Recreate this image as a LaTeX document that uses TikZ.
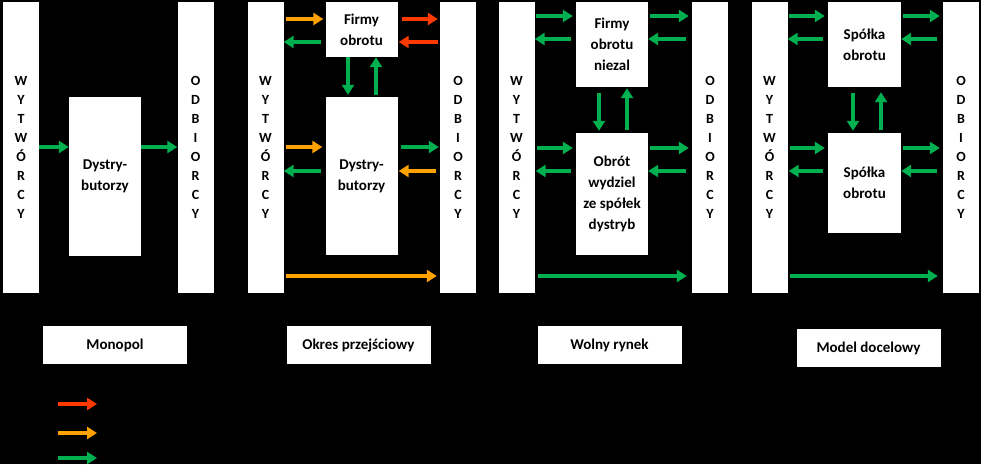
\documentclass[tikz,border=0pt]{standalone}
\usepackage{fontspec}
\setmainfont{Carlito}
\usetikzlibrary{arrows.meta}

\definecolor{fred}{HTML}{FF3A00}
\definecolor{forange}{HTML}{FFA200}
\definecolor{fgreen}{HTML}{00B050}

\tikzset{
  bar/.style={fill=white, minimum width=36pt, minimum height=291pt, inner sep=0pt,
    align=center, font=\bfseries\fontsize{14}{19}\selectfont},
  box/.style={fill=white, minimum width=72pt, inner sep=0pt,
    align=center, font=\bfseries\fontsize{15}{21}\selectfont},
  lab/.style={fill=white, minimum width=144pt, minimum height=38pt, inner sep=0pt,
    font=\bfseries\fontsize{15}{18}\selectfont},
  flow/.style={line width=4pt, -{Triangle[length=10pt,width=12pt]}},
  rr/.style={flow, fred},
  oo/.style={flow, forange},
  gg/.style={flow, fgreen}
}

\newcommand{\wyt}{W\\Y\\T\\W\\Ó\\R\\C\\Y}
\newcommand{\odb}{O\\D\\B\\I\\O\\R\\C\\Y}

\begin{document}
\begin{tikzpicture}[x=1pt,y=-1pt]
  \fill[black] (0,0) rectangle (981,464);

  % Monopol
  \node[bar] (w1) at (21,147.5)  {\wyt};
  \node[bar] (o1) at (195.5,147.5) {\odb};
  \node[box, minimum height=159pt] (d1) at (105,176.5) {Dystry-\\butorzy};
  \node[lab] (l1) at (115,345) {Monopol};

  % Okres przejsciowy
  \node[bar] (w2) at (265.5,147.5) {\wyt};
  \node[bar] (o2) at (458,147.5)   {\odb};
  \node[box, minimum height=55pt]  (f2) at (361.5,29.5)  {Firmy\\obrotu};
  \node[box, minimum height=158pt] (d2) at (361.5,176)   {Dystry-\\butorzy};
  \node[lab] (l2) at (358.5,345) {Okres przejściowy};

  % Wolny rynek
  \node[bar] (w3) at (516.5,147.5) {\wyt};
  \node[bar] (o3) at (710,147.5)   {\odb};
  \node[box, minimum height=85pt]  (f3) at (612,44.5)  {Firmy\\obrotu\\niezal};
  \node[box, minimum height=122pt] (d3) at (612,194)   {Obrót\\wydziel\\ze spółek\\dystryb};
  \node[lab] (l3) at (609.5,345) {Wolny rynek};

  % Model docelowy
  \node[bar] (w4) at (769.5,147.5) {\wyt};
  \node[bar] (o4) at (961,147.5)   {\odb};
  \node[box, minimum height=85pt,  minimum width=73pt] (f4) at (864.5,44.5) {Spółka\\obrotu};
  \node[box, minimum height=100pt, minimum width=73pt] (d4) at (864.5,183)  {Spółka\\obrotu};
  \node[lab] (l4) at (868.5,348) {Model docelowy};

  % strzalki -- monopol
  \draw[gg] (w1.east |- 0,147) -- (d1.west |- 0,147);
  \draw[gg] (d1.east |- 0,147) -- (o1.west |- 0,147);

  % strzalki -- okres przejsciowy
  \draw[oo, shorten <=2pt, shorten >=2pt] (w2.east |- 0,19) -- (f2.west |- 0,19);
  \draw[gg, shorten <=4pt] (f2.west |- 0,42) -- (w2.east |- 0,42);
  \draw[rr, shorten <=4pt, shorten >=2pt] (f2.east |- 0,19) -- (o2.west |- 0,19);
  \draw[rr, shorten <=2pt, shorten >=1pt] (o2.west |- 0,42) -- (f2.east |- 0,42);
  \draw[gg, shorten >=2pt] (f2.south -| 348,0) -- (d2.north -| 348,0);
  \draw[gg, shorten <=2pt] (d2.north -| 376,0) -- (f2.south -| 376,0);
  \draw[oo, shorten <=2pt, shorten >=3pt] (w2.east |- 0,147) -- (d2.west |- 0,147);
  \draw[gg, shorten <=4pt] (d2.west |- 0,171) -- (w2.east |- 0,171);
  \draw[gg, shorten <=3pt, shorten >=1pt] (d2.east |- 0,147) -- (o2.west |- 0,147);
  \draw[oo, shorten <=4pt, shorten >=1pt] (o2.west |- 0,171) -- (d2.east |- 0,171);
  \draw[oo, shorten <=2pt, shorten >=3pt] (w2.east |- 0,276) -- (o2.west |- 0,276);

  % strzalki -- wolny rynek
  \draw[gg, shorten <=1pt, shorten >=3pt] (w3.east |- 0,16) -- (f3.west |- 0,16);
  \draw[gg, shorten <=5pt] (f3.west |- 0,39) -- (w3.east |- 0,39);
  \draw[gg, shorten <=2pt, shorten >=3pt] (f3.east |- 0,16) -- (o3.west |- 0,16);
  \draw[gg, shorten <=6pt] (o3.west |- 0,39) -- (f3.east |- 0,39);
  \draw[gg, shorten <=6pt, shorten >=2pt] (f3.south -| 599,0) -- (d3.north -| 599,0);
  \draw[gg, shorten <=3pt, shorten >=1pt] (d3.north -| 627,0) -- (f3.south -| 627,0);
  \draw[gg, shorten <=2pt, shorten >=3pt] (w3.east |- 0,148) -- (d3.west |- 0,148);
  \draw[gg, shorten <=5pt, shorten >=1pt] (d3.west |- 0,171) -- (w3.east |- 0,171);
  \draw[gg, shorten <=2pt, shorten >=3pt] (d3.east |- 0,148) -- (o3.west |- 0,148);
  \draw[gg, shorten <=6pt] (o3.west |- 0,171) -- (d3.east |- 0,171);
  \draw[gg, shorten <=3pt, shorten >=5pt] (w3.east |- 0,276) -- (o3.west |- 0,276);

  % strzalki -- model docelowy
  \draw[gg, shorten <=1pt, shorten >=3pt] (w4.east |- 0,16) -- (f4.west |- 0,16);
  \draw[gg, shorten <=5pt] (f4.west |- 0,39) -- (w4.east |- 0,39);
  \draw[gg, shorten <=2pt, shorten >=3pt] (f4.east |- 0,16) -- (o4.west |- 0,16);
  \draw[gg, shorten <=6pt] (o4.west |- 0,39) -- (f4.east |- 0,39);
  \draw[gg, shorten <=6pt, shorten >=2pt] (f4.south -| 853,0) -- (d4.north -| 853,0);
  \draw[gg, shorten <=3pt, shorten >=5pt] (d4.north -| 881,0) -- (f4.south -| 881,0);
  \draw[gg, shorten <=2pt, shorten >=3pt] (w4.east |- 0,148) -- (d4.west |- 0,148);
  \draw[gg, shorten <=5pt, shorten >=1pt] (d4.west |- 0,171) -- (w4.east |- 0,171);
  \draw[gg, shorten <=2pt, shorten >=3pt] (d4.east |- 0,148) -- (o4.west |- 0,148);
  \draw[gg, shorten <=6pt] (o4.west |- 0,171) -- (d4.east |- 0,171);
  \draw[gg, shorten <=2pt, shorten >=5pt] (w4.east |- 0,276) -- (o4.west |- 0,276);

  % legenda
  \coordinate (k1) at (58,404);  \coordinate (k1e) at (97,404);
  \coordinate (k2) at (58,433);  \coordinate (k2e) at (97,433);
  \coordinate (k3) at (58,458);  \coordinate (k3e) at (97,458);
  \draw[rr] (k1) -- (k1e);
  \draw[oo] (k2) -- (k2e);
  \draw[gg] (k3) -- (k3e);
\end{tikzpicture}
\end{document}
